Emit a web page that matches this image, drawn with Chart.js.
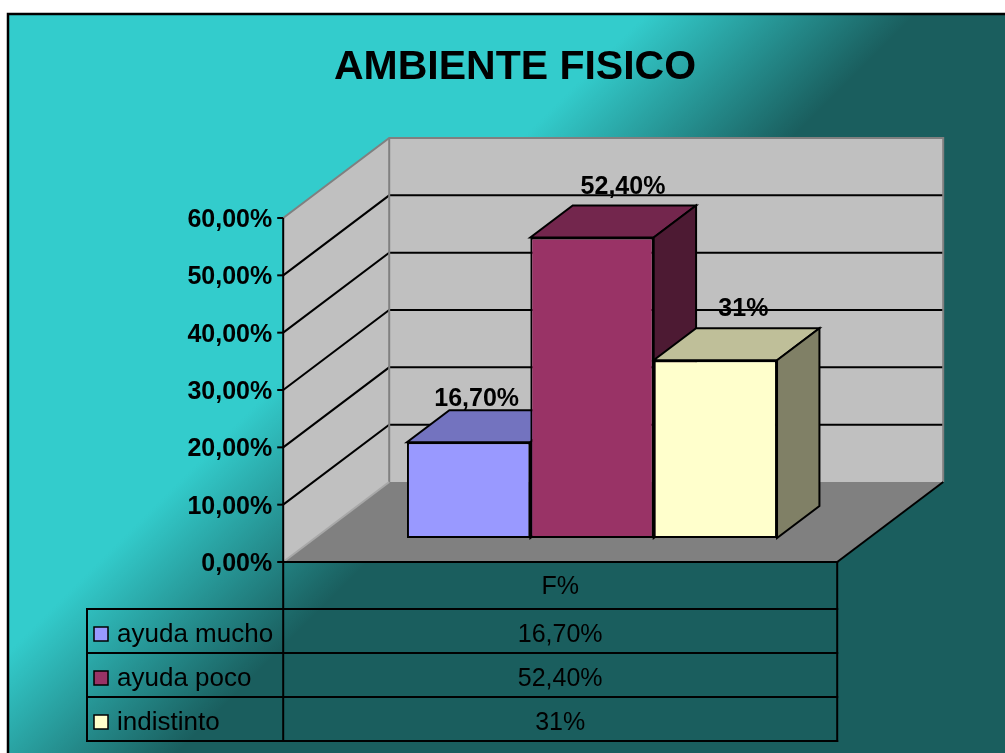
<!DOCTYPE html>
<html><head><meta charset="utf-8">
<script src="https://cdn.jsdelivr.net/npm/chart.js@4.4.1/dist/chart.umd.min.js"></script>
<style>html,body{margin:0;padding:0;background:#fff;overflow:hidden}#wrap{width:1005px;height:753px;position:relative}canvas{display:block}</style>
</head><body><div id="wrap"><canvas id="c" width="1005" height="753"></canvas></div>
<script>
// ---- data ----
const titleText = 'AMBIENTE FISICO';
const categories = ['F%'];
const seriesNames = ['ayuda mucho', 'ayuda poco', 'indistinto'];
const seriesValues = [0.167, 0.524, 0.31];
const valueLabels = ['16,70%', '52,40%', '31%'];
const tickValues = [0, 0.1, 0.2, 0.3, 0.4, 0.5, 0.6];
const tickLabels = ['0,00%', '10,00%', '20,00%', '30,00%', '40,00%', '50,00%', '60,00%'];
const seriesColors = ['#9999FF', '#993366', '#FFFFCC'];

// ---- styling / layout ----
const W = 1005, H = 753;
const FONT = '"Liberation Sans", Arial, Helvetica, sans-serif';
const D = { dx: 106, dy: -80, barFrac: 0.3, barDepth: 0.4 };
const labelShift = [8, 31, 28];
const labelLift = [4, 12, 12];
function front(x, y) { return [x - D.barFrac * D.dx, y - D.barFrac * D.dy]; }
function back(x, y) { return [x + (1 - D.barFrac) * D.dx, y + (1 - D.barFrac) * D.dy]; }
function shade(hex, f) {
  const n = parseInt(hex.slice(1), 16);
  const r = Math.round(((n >> 16) & 255) * f), g = Math.round(((n >> 8) & 255) * f), b = Math.round((n & 255) * f);
  return `rgb(${r},${g},${b})`;
}
function poly(ctx, pts, fill, stroke, lw) {
  ctx.beginPath();
  ctx.moveTo(pts[0][0], pts[0][1]);
  for (let i = 1; i < pts.length; i++) ctx.lineTo(pts[i][0], pts[i][1]);
  ctx.closePath();
  if (fill) { ctx.fillStyle = fill; ctx.fill(); }
  if (stroke) { ctx.strokeStyle = stroke; ctx.lineWidth = lw || 2; ctx.lineJoin = 'miter'; ctx.stroke(); }
}
function line(ctx, x1, y1, x2, y2, col, lw) {
  ctx.beginPath(); ctx.moveTo(x1, y1); ctx.lineTo(x2, y2);
  ctx.strokeStyle = col; ctx.lineWidth = lw; ctx.stroke();
}
function geom(chart) {
  const ca = chart.chartArea, ys = chart.scales.y;
  const y0 = ys.getPixelForValue(0), yT = ys.getPixelForValue(tickValues[tickValues.length - 1]);
  const [fl, fb] = front(ca.left, y0);
  const [fr] = front(ca.right, y0);
  const [bl, bb] = back(ca.left, y0);
  const [br] = back(ca.right, y0);
  const [, ft] = front(ca.left, yT);
  const [, bt] = back(ca.left, yT);
  return { ca, ys, fl, fb, fr, bl, bb, br, ft, bt };
}

const plugin3d = {
  id: 'scene3d',
  beforeDraw(chart) {
    const ctx = chart.ctx;
    ctx.save();
    ctx.fillStyle = '#fff'; ctx.fillRect(0, 0, W, H);
    const g = ctx.createLinearGradient(330, 330, 465, 465);
    g.addColorStop(0, '#33CCCC'); g.addColorStop(1, '#1A5E5E');
    ctx.fillStyle = g; ctx.fillRect(8, 14, W, H);
    ctx.strokeStyle = '#000'; ctx.lineWidth = 2.5;
    ctx.beginPath(); ctx.moveTo(8, H + 5); ctx.lineTo(8, 14); ctx.lineTo(W + 5, 14); ctx.stroke();
    // title
    ctx.fillStyle = '#000'; ctx.font = 'bold 41px ' + FONT;
    ctx.textAlign = 'center'; ctx.textBaseline = 'alphabetic';
    ctx.fillText(titleText, 515, 79);
    // walls & floor
    const G = geom(chart);
    poly(ctx, [[G.bl, G.bt], [G.br, G.bt], [G.br, G.bb], [G.bl, G.bb]], '#C0C0C0');
    poly(ctx, [[G.fl, G.ft], [G.bl, G.bt], [G.bl, G.bb], [G.fl, G.fb]], '#C0C0C0');
    poly(ctx, [[G.fl, G.fb], [G.bl, G.bb], [G.br, G.bb], [G.fr, G.fb]], '#808080');
    // gridlines
    for (let i = 1; i < tickValues.length - 1; i++) {
      const y = G.ys.getPixelForValue(tickValues[i]);
      const fy = front(0, y)[1], by = back(0, y)[1];
      ctx.beginPath(); ctx.moveTo(G.fl, fy); ctx.lineTo(G.bl, by); ctx.lineTo(G.br, by);
      ctx.strokeStyle = '#000'; ctx.lineWidth = 2; ctx.stroke();
    }
    // wall edges (gray)
    ctx.beginPath(); ctx.moveTo(G.fl, G.ft); ctx.lineTo(G.bl, G.bt); ctx.lineTo(G.br, G.bt); ctx.lineTo(G.br, G.bb);
    ctx.strokeStyle = '#808080'; ctx.lineWidth = 2; ctx.stroke();
    line(ctx, G.bl, G.bt, G.bl, G.bb, '#808080', 2);
    line(ctx, G.fl, G.fb, G.bl, G.bb, '#A8A8A8', 2);
    // floor edges
    line(ctx, G.fr, G.fb, G.br, G.bb, '#000', 2);
    ctx.restore();
  },
  beforeDatasetsDraw(chart) {
    const ctx = chart.ctx;
    ctx.save();
    const bx = D.barDepth * D.dx, by = D.barDepth * D.dy;
    chart.data.datasets.forEach((ds, i) => {
      const el = chart.getDatasetMeta(i).data[0];
      const l = el.x - el.width / 2, r = el.x + el.width / 2, t = el.y, b = el.base;
      poly(ctx, [[l, t], [r, t], [r + bx, t + by], [l + bx, t + by]], shade(seriesColors[i], 0.75), '#000', 2);
      poly(ctx, [[r, t], [r + bx, t + by], [r + bx, b + by], [r, b]], shade(seriesColors[i], 0.5), '#000', 2);
    });
    ctx.restore();
  },
  afterDatasetsDraw(chart) {
    const ctx = chart.ctx;
    ctx.save();
    const by = D.barDepth * D.dy;
    ctx.fillStyle = '#000'; ctx.font = 'bold 25px ' + FONT;
    ctx.textAlign = 'center'; ctx.textBaseline = 'alphabetic';
    chart.data.datasets.forEach((ds, i) => {
      const el = chart.getDatasetMeta(i).data[0];
      ctx.fillText(valueLabels[i], el.x + labelShift[i], el.y + by - labelLift[i]);
    });
    const G = geom(chart);
    // table geometry
    const tLeft = 87, hdrH = 47, rowH = 44;
    const rowsTop = G.fb + hdrH;
    const tBottom = rowsTop + rowH * seriesNames.length;
    // axis line (front) and table divider
    line(ctx, G.fl, G.ft, G.fl, tBottom, '#000', 2);
    // tick marks and labels
    ctx.font = 'bold 25px ' + FONT; ctx.textAlign = 'right';
    tickValues.forEach((v, i) => {
      const fy = front(0, G.ys.getPixelForValue(v))[1];
      line(ctx, G.fl - 6, fy, G.fl, fy, '#000', 2);
      ctx.fillText(tickLabels[i], G.fl - 11, fy + 9);
    });
    // floor front edge / table top
    line(ctx, G.fl - 1, G.fb, G.fr + 1, G.fb, '#000', 2);
    line(ctx, G.fr, G.fb, G.fr, tBottom + 1, '#000', 2);
    // header
    ctx.font = '25px ' + FONT; ctx.textAlign = 'center';
    const cx = (G.fl + G.fr) / 2;
    ctx.fillText(categories[0], cx, G.fb + 32);
    // rows
    for (let i = 0; i <= seriesNames.length; i++) {
      line(ctx, tLeft - 1, rowsTop + i * rowH, G.fr + 1, rowsTop + i * rowH, '#000', 2);
    }
    line(ctx, tLeft, rowsTop, tLeft, tBottom, '#000', 2);
    seriesNames.forEach((name, i) => {
      const top = rowsTop + i * rowH;
      ctx.fillStyle = seriesColors[i];
      ctx.fillRect(94, top + 18, 14, 14);
      ctx.strokeStyle = '#000'; ctx.lineWidth = 1.5; ctx.strokeRect(94, top + 18, 14, 14);
      ctx.fillStyle = '#000'; ctx.textAlign = 'left';
      ctx.font = '26px ' + FONT;
      ctx.fillText(name, 117, top + 33);
      ctx.textAlign = 'center';
      ctx.font = '25px ' + FONT;
      ctx.fillText(valueLabels[i], cx, top + 33);
    });
    ctx.restore();
  }
};

new Chart(document.getElementById('c'), {
  type: 'bar',
  data: {
    labels: categories,
    datasets: seriesNames.map((n, i) => ({
      label: n,
      data: [seriesValues[i]],
      backgroundColor: seriesColors[i],
      borderColor: '#000',
      borderWidth: 2,
      borderSkipped: false,
      categoryPercentage: 0.668,
      barPercentage: 1
    }))
  },
  options: {
    responsive: false,
    devicePixelRatio: 1,
    animation: false,
    layout: { padding: { left: 315, right: 136, top: 194, bottom: 215 } },
    scales: {
      x: { display: false },
      y: { display: false, min: tickValues[0], max: tickValues[tickValues.length - 1] }
    },
    plugins: { legend: { display: false }, tooltip: { enabled: false }, title: { display: false } }
  },
  plugins: [plugin3d]
});
</script>
</body></html>
